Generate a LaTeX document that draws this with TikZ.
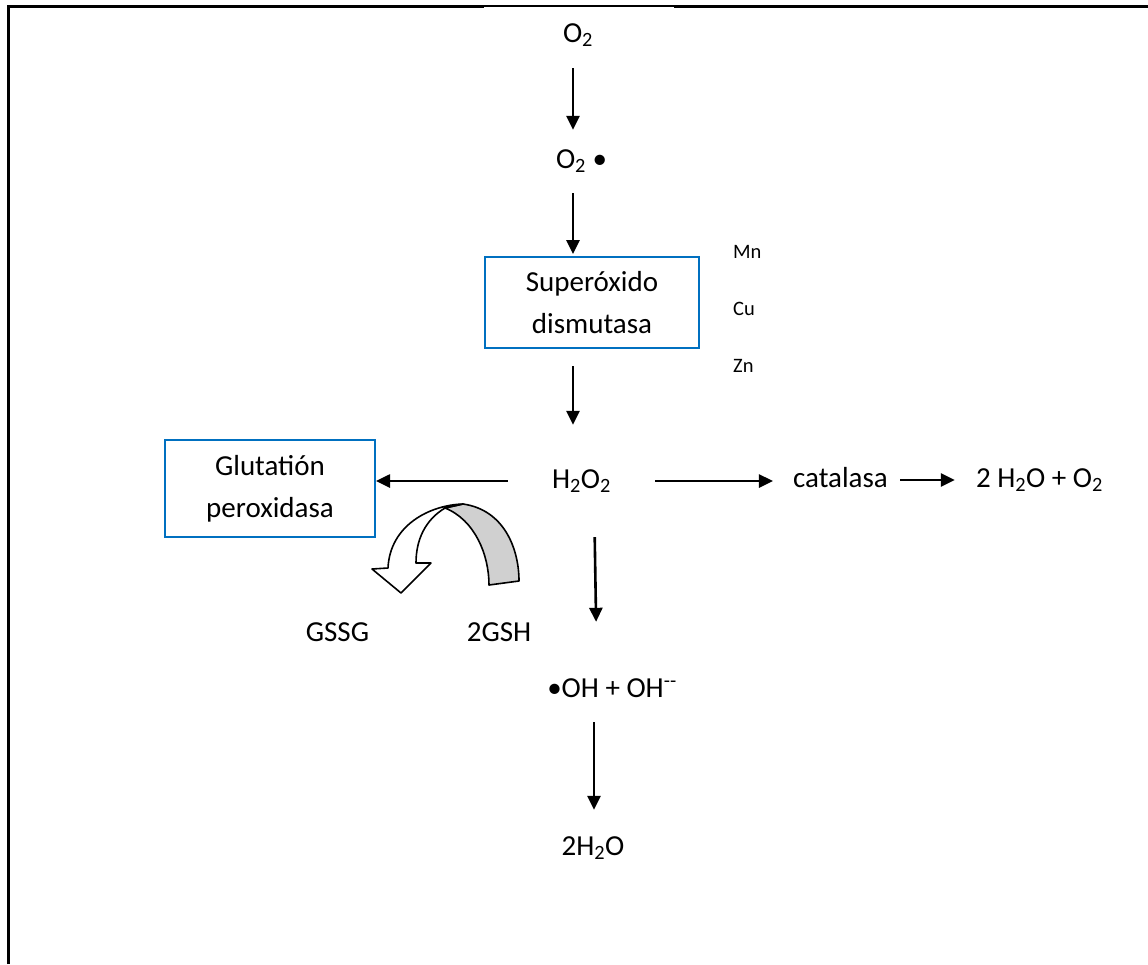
\documentclass[tikz,border=0pt]{standalone}
\usepackage{fontspec}
\setmainfont{Carlito}
\usetikzlibrary{arrows.meta}
\definecolor{boxblue}{RGB}{0,112,192}
\definecolor{ribbongray}{RGB}{208,208,208}
\begin{document}
\begin{tikzpicture}[x=1pt,y=-1pt,
  txt/.style={font=\fontsize{29}{39}\selectfont, inner sep=0pt, text height=20pt, text depth=6pt, anchor=base},
  small/.style={font=\fontsize{20.5}{24}\selectfont, inner sep=0pt, anchor=base west},
  bluebox/.style={draw=boxblue, line width=2pt, align=center, inner sep=0pt, font=\fontsize{29}{42}\selectfont},
  arr/.style={line width=2.6pt, -{Triangle[length=14pt,width=13pt]}},
  frame/.style={line width=3pt},
  ribbon/.style={line width=1.6pt, line join=round}
]
\useasboundingbox (0,0) rectangle (1148,964);
% frame
\draw[frame] (8,964) -- (8,6) -- (484,6);
\draw[line width=1.2pt] (484,6) -- (674,6);
\draw[frame] (674,6) -- (1148,6);

% nodes
\node[txt] (o2) at (578,42) {O\textsubscript{2}};
\node[txt] (o2r) at (581.5,168) {O\textsubscript{2} •};
\node[bluebox, minimum width=214pt, minimum height=91pt] (sod) at (592,302.5) {Superóxido\\dismutasa};
\node[small] (mn) at (733,258) {Mn};
\node[small] (cu) at (733,315) {Cu};
\node[small] (zn) at (733,372) {Zn};
\node[txt] (h2o2) at (581.5,488) {H\textsubscript{2}O\textsubscript{2}};
\node[bluebox, minimum width=210pt, minimum height=97pt] (gpx) at (270,488.5) {Glutatión\\peroxidasa};
\node[txt] (cat) at (840.5,487) {catalasa};
\node[txt] (prod) at (1039.5,487) {2 H\textsubscript{2}O + O\textsubscript{2}};
\node[txt] (gssg) at (337.5,641) {GSSG};
\node[txt] (gsh) at (499,641) {2GSH};
\node[txt] (oh) at (612,697) {•OH + OH\textsuperscript{-{}-}};
\node[txt] (w2o) at (593,855) {2H\textsubscript{2}O};

% connectors
\draw[arr, shorten <=20pt, shorten >=18pt] ([xshift=-5pt]o2.south) -- ([xshift=-8.5pt]o2r.north);
\draw[arr, shorten <=19pt, shorten >=2pt] ([xshift=-8.5pt]o2r.south) -- ([xshift=-19pt]sod.north);
\draw[arr, shorten <=17pt, shorten >=43pt] ([xshift=-19pt]sod.south) -- ([xshift=-8.5pt]h2o2.north);
\draw[arr, shorten <=44pt] (h2o2.west) -- (h2o2.west -| gpx.east);
\draw[arr, shorten <=44pt, shorten >=20pt] (h2o2.east) -- (h2o2.east -| cat.west);
\draw[arr, shorten <=12pt, shorten >=21pt] (cat.east) -- (cat.east -| prod.west);
\draw[arr, shorten <=43pt, shorten >=55pt] ([xshift=12.5pt]h2o2.south) -- ([xshift=-15pt]oh.north);
\draw[arr, shorten <=19pt, shorten >=25pt] ([xshift=-18pt]oh.south) -- ([xshift=1pt]w2o.north);

% curved ribbon arrow
\filldraw[ribbon, fill=ribbongray] (445,508) .. controls (475,520) and (489,555) .. (489,585)
  -- (519,581) .. controls (519,550) and (505,510) .. (463,504) -- cycle;
\filldraw[ribbon, fill=white] (463,504) .. controls (430,505) and (390,525) .. (388,568)
  -- (372,569) -- (401,593) -- (431,563) -- (416,563)
  .. controls (416,540) and (425,520) .. (445,508) -- cycle;
\end{tikzpicture}
\end{document}
